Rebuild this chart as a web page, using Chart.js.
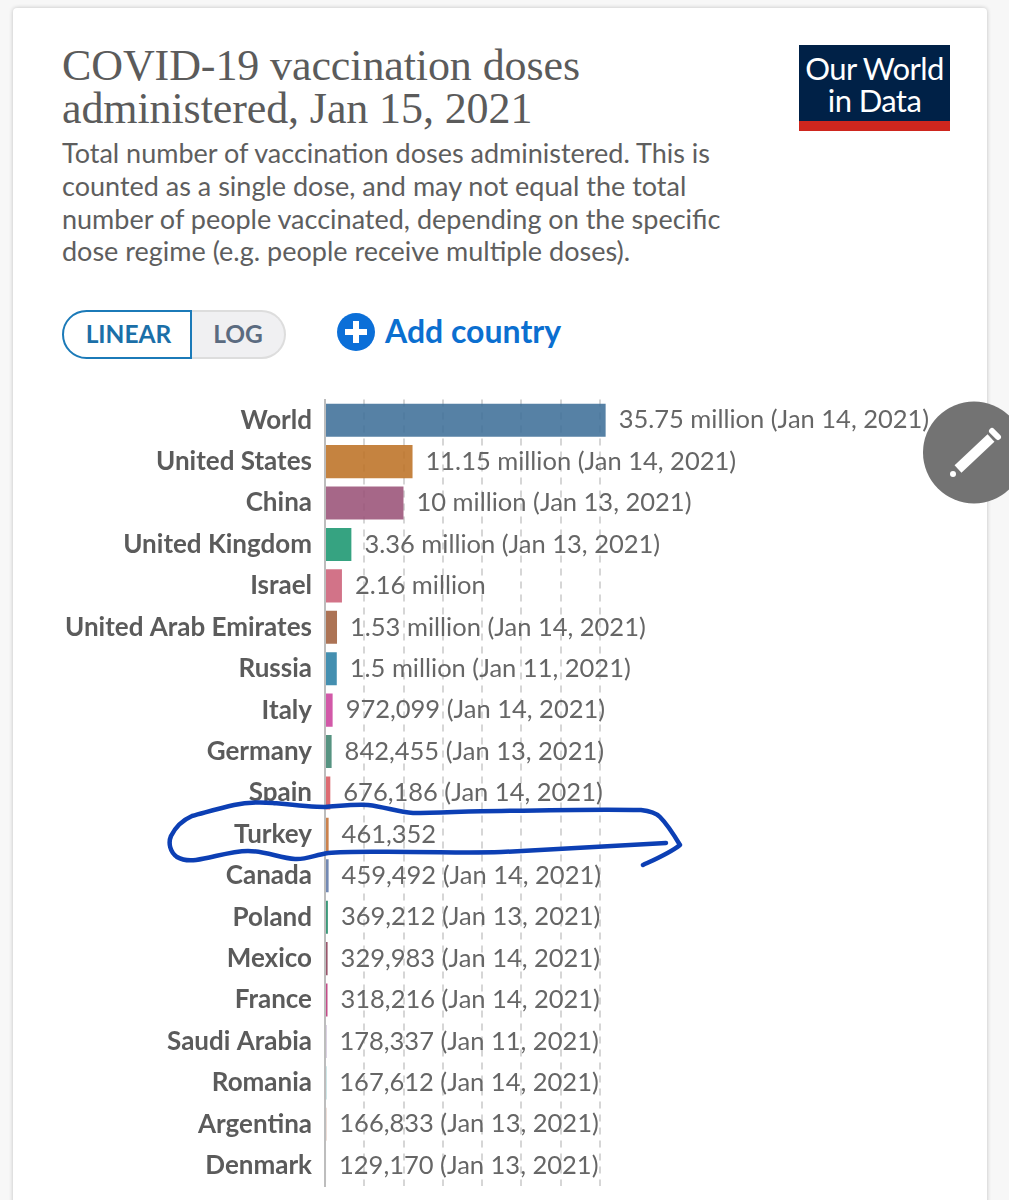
<!DOCTYPE html>
<html>
<head>
<meta charset="utf-8">
<script src="https://cdn.jsdelivr.net/npm/chart.js@4"></script>
<style>
  html, body { margin: 0; padding: 0; background: #f7f7f7; }
  body { width: 1009px; height: 1200px; position: relative; overflow: hidden; font-family: Lato, sans-serif; }
  .card { position: absolute; left: 13px; top: 8px; width: 974px; height: 1200px; background: #fff; border-radius: 4px; box-shadow: 0 0 4px rgba(0,0,0,.22); }
  .abs { position: absolute; white-space: nowrap; }
  .title { left: 62px; top: 44px; font: 44px/43px "Liberation Serif", serif; color: #5b5b5b; letter-spacing: -.1px; }
  .sub { left: 62px; top: 137px; font: 27px/32.8px Lato, sans-serif; color: #5e5e5e; }
  .logo { left: 799px; top: 45px; width: 151px; height: 86px; background: #002147; border-bottom: 10px solid #ce261e; box-sizing: border-box; color: #fff; text-align: center; font: 31px/32px Lato, sans-serif; padding-top: 7px; letter-spacing: -.6px; }
  .lin { left: 62px; top: 310px; width: 130px; height: 49px; box-sizing: border-box; border: 2px solid #1b7ab8; border-radius: 25px 0 0 25px; color: #1b6fa8; font: 700 24.5px/44px Lato, sans-serif; text-align: center; padding-left: 3px; }
  .log { left: 192px; top: 310px; width: 94px; height: 49px; box-sizing: border-box; border: 2px solid #ddd; border-left: 0; border-radius: 0 25px 25px 0; background: #f0f0f2; color: #5b6b80; font: 700 24.5px/44px Lato, sans-serif; text-align: center; }
  .add { left: 385px; top: 311px; font: 700 32px/40px Lato, sans-serif; color: #0b6fd0; }
  canvas { position: absolute; left: 0; top: 0; }
  svg { position: absolute; left: 0; top: 0; }
</style>
</head>
<body>
<div class="card"></div>
<div class="abs title">COVID-19 vaccination doses<br>administered, Jan 15, 2021</div>
<div class="abs sub">Total number of vaccination doses administered. This is<br>counted as a single dose, and may not equal the total<br>number of people vaccinated, depending on the specific<br>dose regime (e.g. people receive multiple doses).</div>
<div class="abs logo">Our World<br>in Data</div>
<div class="abs lin">LINEAR</div>
<div class="abs log">LOG</div>
<div class="abs add">Add country</div>
<canvas id="chart" width="1009" height="1215"></canvas>
<svg width="1009" height="1200" viewBox="0 0 1009 1200">
  <!-- add country icon -->
  <circle cx="356" cy="332" r="19" fill="#0b6fd8"/>
  <path d="M356 321v22M345 332h22" stroke="#fff" stroke-width="6"/>
  <!-- edit button -->
  <circle cx="974" cy="452.5" r="51" fill="#737373"/>
  <path d="M958 469L991 438" stroke="#fff" stroke-width="10"/>
  <path d="M992 431L998 437" stroke="#fff" stroke-width="6" stroke-linecap="round"/>
  <circle cx="953" cy="474" r="3" fill="#fff"/>
  <!-- hand drawn circle round Turkey -->
  <path fill="none" stroke="#0c3fb4" stroke-width="4.5" stroke-linecap="round" stroke-linejoin="round"
    d="M177 857C170 852 168 843 171 836C176 826 183 820 192 816C207 812 220 808 234 805C248 802 260 802 273 803C292 805 310 807 325 807C340 806 355 804 368 805C385 807 398 812 413 813C440 813 470 811 501 811C550 810 600 809 641 810C650 811 656 813 660 817C667 824 674 835 680 845C670 853 656 859 643 865M666 843C620 846 560 849 501 852C470 853 440 852 410 852C380 852 350 851 328 853C315 855 305 860 295 859C280 858 265 851 248 851C230 851 212 858 196 860C188 861 182 860 177 857"/>
</svg>
<script>
const countries = ['World', 'United States', 'China', 'United Kingdom', 'Israel', 'United Arab Emirates', 'Russia', 'Italy', 'Germany', 'Spain', 'Turkey', 'Canada', 'Poland', 'Mexico', 'France', 'Saudi Arabia', 'Romania', 'Argentina', 'Denmark'];
const doses = [35750000, 11150000, 10000000, 3360000, 2160000, 1530000, 1500000, 972099, 842455, 676186, 461352, 459492, 369212, 329983, 318216, 178337, 167612, 166833, 129170];
const doseLabels = ['35.75 million', '11.15 million', '10 million', '3.36 million', '2.16 million', '1.53 million', '1.5 million', '972,099', '842,455', '676,186', '461,352', '459,492', '369,212', '329,983', '318,216', '178,337', '167,612', '166,833', '129,170'];
const doseDates = ['Jan 14, 2021', 'Jan 14, 2021', 'Jan 13, 2021', 'Jan 13, 2021', '', 'Jan 14, 2021', 'Jan 11, 2021', 'Jan 14, 2021', 'Jan 13, 2021', 'Jan 14, 2021', '', 'Jan 14, 2021', 'Jan 13, 2021', 'Jan 14, 2021', 'Jan 14, 2021', 'Jan 11, 2021', 'Jan 14, 2021', 'Jan 13, 2021', 'Jan 13, 2021'];
const barColors = ['#3f7099', '#bd7226', '#9a5278', '#1a9670', '#cc6078', '#a0603e', '#2a7fa5', '#cc429c', '#3f8470', '#d8565f', '#c46f33', '#6079a8', '#1f8a66', '#8a3d55', '#bb3278', '#9a80ad', '#4fa5aa', '#be8a72', '#737a84'];
const gridTicks = [0, 5000000, 10000000, 15000000, 20000000, 25000000, 30000000, 35000000];

// value text to the right of each bar
const valueLabels = {
  id: 'valueLabels',
  afterDatasetsDraw(chart) {
    const { ctx, scales: { x, y } } = chart;
    ctx.save();
    ctx.font = '25.5px Lato, sans-serif';
    ctx.fillStyle = '#666';
    ctx.textBaseline = 'middle';
    doses.forEach((v, i) => {
      const text = doseDates[i] ? `${doseLabels[i]} (${doseDates[i]})` : doseLabels[i];
      ctx.fillText(text, x.getPixelForValue(v) + 13, y.getPixelForValue(i));
    });
    ctx.restore();
  }
};

new Chart(document.getElementById('chart'), {
  type: 'bar',
  data: {
    labels: countries,
    datasets: [{
      data: doses,
      backgroundColor: barColors.map(c => c + 'e0'),
      categoryPercentage: 1,
      barPercentage: 0.8,
    }]
  },
  options: {
    indexAxis: 'y',
    responsive: false,
    animation: false,
    layout: { padding: { top: 399.5, bottom: 0, right: 370, left: 0 } },
    plugins: { legend: { display: false }, tooltip: { enabled: false } },
    scales: {
      x: {
        min: 0,
        max: 40000000,
        afterBuildTicks: scale => { scale.ticks = gridTicks.map(value => ({ value })); },
        afterFit: scale => { scale.height = 0; },
        ticks: { display: false },
        grid: { color: '#d6d6d6', lineWidth: 2, drawTicks: false },
        border: { display: false, dash: [7, 6] },
      },
      y: {
        afterFit: scale => { scale.width = 325; },
        ticks: {
          autoSkip: false,
          padding: 13,
          color: '#5b5b5b',
          font: { family: 'Lato, sans-serif', size: 26, weight: '700' },
        },
        grid: { display: false, drawTicks: false },
        border: { color: '#bdbdbd', width: 2 },
      },
    },
  },
  plugins: [valueLabels],
});
</script>
</body>
</html>
